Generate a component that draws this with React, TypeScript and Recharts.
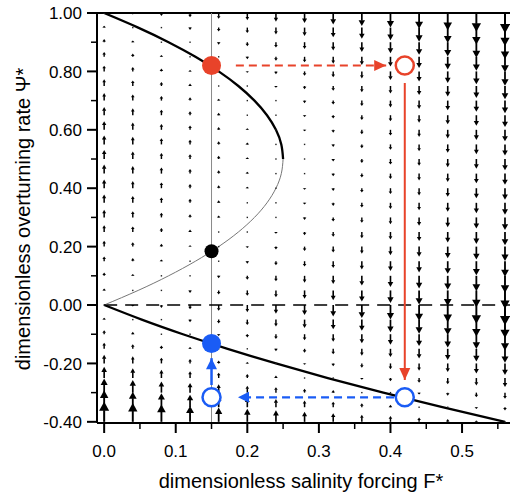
import { ComposedChart, XAxis, YAxis, Line, Scatter, ReferenceLine, Label } from 'recharts';

// steady-state branches (F*, Psi*)
const upperPsi = [1.0, 0.95, 0.9, 0.85, 0.8, 0.75, 0.7, 0.65, 0.6, 0.55, 0.5];
const upperF = [0, 0.0475, 0.09, 0.1275, 0.16, 0.1875, 0.21, 0.2275, 0.24, 0.2475, 0.25];
const middlePsi = [0.5, 0.45, 0.4, 0.35, 0.3, 0.25, 0.2, 0.15, 0.1, 0.05, 0];
const middleF = [0.25, 0.2475, 0.24, 0.2275, 0.21, 0.1875, 0.16, 0.1275, 0.09, 0.0475, 0];
const lowerPsi = [0, -0.05, -0.1, -0.15, -0.2, -0.25, -0.3, -0.35, -0.4];
const lowerF = [0, 0.0525, 0.11, 0.1725, 0.24, 0.3125, 0.39, 0.4725, 0.56];

// vector field: columns of F*, rows of Psi*, and the dPsi/dt read from each arrow
const fieldF = [0, 0.04, 0.08, 0.12, 0.16, 0.2, 0.24, 0.28, 0.32, 0.36, 0.4, 0.44, 0.48, 0.52, 0.56];
const fieldPsi = [1.0, 0.95, 0.9, 0.85, 0.8, 0.75, 0.7, 0.65, 0.6, 0.55, 0.5, 0.45, 0.4, 0.35, 0.3,
  0.25, 0.2, 0.15, 0.1, 0.05, 0, -0.05, -0.1, -0.15, -0.2, -0.25, -0.3, -0.35, -0.4];
const fieldRate = [
  [0, -0.04, -0.08, -0.12, -0.16, -0.2, -0.24, -0.28, -0.32, -0.36, -0.4, -0.44, -0.48, -0.52, -0.56],
  [0.05, 0.01, -0.03, -0.07, -0.11, -0.15, -0.19, -0.23, -0.27, -0.31, -0.35, -0.39, -0.43, -0.47, -0.51],
  [0.09, 0.05, 0.01, -0.03, -0.07, -0.11, -0.15, -0.19, -0.23, -0.27, -0.31, -0.35, -0.39, -0.43, -0.47],
  [0.13, 0.09, 0.05, 0.01, -0.03, -0.07, -0.11, -0.15, -0.19, -0.23, -0.27, -0.31, -0.35, -0.39, -0.43],
  [0.16, 0.12, 0.08, 0.04, 0, -0.04, -0.08, -0.12, -0.16, -0.2, -0.24, -0.28, -0.32, -0.36, -0.4],
  [0.19, 0.15, 0.11, 0.07, 0.03, -0.01, -0.05, -0.09, -0.13, -0.17, -0.21, -0.25, -0.29, -0.33, -0.37],
  [0.21, 0.17, 0.13, 0.09, 0.05, 0.01, -0.03, -0.07, -0.11, -0.15, -0.19, -0.23, -0.27, -0.31, -0.35],
  [0.23, 0.19, 0.15, 0.11, 0.07, 0.03, -0.01, -0.05, -0.09, -0.13, -0.17, -0.21, -0.25, -0.29, -0.33],
  [0.24, 0.2, 0.16, 0.12, 0.08, 0.04, 0, -0.04, -0.08, -0.12, -0.16, -0.2, -0.24, -0.28, -0.32],
  [0.25, 0.21, 0.17, 0.13, 0.09, 0.05, 0.01, -0.03, -0.07, -0.11, -0.15, -0.19, -0.23, -0.27, -0.31],
  [0.25, 0.21, 0.17, 0.13, 0.09, 0.05, 0.01, -0.03, -0.07, -0.11, -0.15, -0.19, -0.23, -0.27, -0.31],
  [0.25, 0.21, 0.17, 0.13, 0.09, 0.05, 0.01, -0.03, -0.07, -0.11, -0.15, -0.19, -0.23, -0.27, -0.31],
  [0.24, 0.2, 0.16, 0.12, 0.08, 0.04, 0, -0.04, -0.08, -0.12, -0.16, -0.2, -0.24, -0.28, -0.32],
  [0.23, 0.19, 0.15, 0.11, 0.07, 0.03, -0.01, -0.05, -0.09, -0.13, -0.17, -0.21, -0.25, -0.29, -0.33],
  [0.21, 0.17, 0.13, 0.09, 0.05, 0.01, -0.03, -0.07, -0.11, -0.15, -0.19, -0.23, -0.27, -0.31, -0.35],
  [0.19, 0.15, 0.11, 0.07, 0.03, -0.01, -0.05, -0.09, -0.13, -0.17, -0.21, -0.25, -0.29, -0.33, -0.37],
  [0.16, 0.12, 0.08, 0.04, 0, -0.04, -0.08, -0.12, -0.16, -0.2, -0.24, -0.28, -0.32, -0.36, -0.4],
  [0.13, 0.09, 0.05, 0.01, -0.03, -0.07, -0.11, -0.15, -0.19, -0.23, -0.27, -0.31, -0.35, -0.39, -0.43],
  [0.09, 0.05, 0.01, -0.03, -0.07, -0.11, -0.15, -0.19, -0.23, -0.27, -0.31, -0.35, -0.39, -0.43, -0.47],
  [0.05, 0.01, -0.03, -0.07, -0.11, -0.15, -0.19, -0.23, -0.27, -0.31, -0.35, -0.39, -0.43, -0.47, -0.51],
  [0, -0.04, -0.08, -0.12, -0.16, -0.2, -0.24, -0.28, -0.32, -0.36, -0.4, -0.44, -0.48, -0.52, -0.56],
  [0.05, 0.01, -0.03, -0.07, -0.11, -0.15, -0.19, -0.23, -0.27, -0.31, -0.35, -0.39, -0.43, -0.47, -0.51],
  [0.11, 0.07, 0.03, -0.01, -0.05, -0.09, -0.13, -0.17, -0.21, -0.25, -0.29, -0.33, -0.37, -0.41, -0.45],
  [0.17, 0.13, 0.09, 0.05, 0.01, -0.03, -0.07, -0.11, -0.15, -0.19, -0.23, -0.27, -0.31, -0.35, -0.39],
  [0.24, 0.2, 0.16, 0.12, 0.08, 0.04, 0, -0.04, -0.08, -0.12, -0.16, -0.2, -0.24, -0.28, -0.32],
  [0.31, 0.27, 0.23, 0.19, 0.15, 0.11, 0.07, 0.03, -0.01, -0.05, -0.09, -0.13, -0.17, -0.21, -0.25],
  [0.39, 0.35, 0.31, 0.27, 0.23, 0.19, 0.15, 0.11, 0.07, 0.03, -0.01, -0.05, -0.09, -0.13, -0.17],
  [0.47, 0.43, 0.39, 0.35, 0.31, 0.27, 0.23, 0.19, 0.15, 0.11, 0.07, 0.03, -0.01, -0.05, -0.09],
  [0.56, 0.52, 0.48, 0.44, 0.4, 0.36, 0.32, 0.28, 0.24, 0.2, 0.16, 0.12, 0.08, 0.04, 0],
];

// marked states
const redFilled = [{ x: 0.15, y: 0.82 }];
const blackFilled = [{ x: 0.15, y: 0.184 }];
const blueFilled = [{ x: 0.15, y: -0.132 }];
const redOpen = [{ x: 0.42, y: 0.82 }];
const blueOpen = [{ x: 0.15, y: -0.316 }, { x: 0.42, y: -0.316 }];

// hysteresis path arrows (start, end)
const redDashed = [{ x: 0.184, y: 0.82 }, { x: 0.394, y: 0.82 }];
const redSolid = [{ x: 0.42, y: 0.76 }, { x: 0.42, y: -0.257 }];
const blueDashed = [{ x: 0.405, y: -0.316 }, { x: 0.187, y: -0.316 }];
const blueSolid = [{ x: 0.15, y: -0.274 }, { x: 0.15, y: -0.182 }];

const guideF = 0.15;
const xDomain = [-0.01, 0.567];
const yDomain = [-0.404, 1.0];
const xMajor = [0, 0.1, 0.2, 0.3, 0.4, 0.5];
const xMinor = [0.05, 0.15, 0.25, 0.35, 0.45, 0.55];
const yMajor = [-0.4, -0.2, 0, 0.2, 0.4, 0.6, 0.8, 1.0];
const yMinor = [-0.3, -0.1, 0.1, 0.3, 0.5, 0.7, 0.9];

const RED = '#E8432A';
const BLUE = '#1A5CF5';
const FONT = '"Liberation Sans", Arial, sans-serif';
const ARROW_PX = 36;

const toPts = (xs: number[], ys: number[]) => xs.map((x, i) => ({ x, y: ys[i] }));
const upperData = toPts(upperF, upperPsi);
const middleData = toPts(middleF, middlePsi);
const lowerData = toPts(lowerF, lowerPsi);
const fieldData = fieldPsi.flatMap((psi, i) => fieldF.map((f, j) => ({ x: f, y: psi, rate: fieldRate[i][j] })));
const guideData = [{ x: guideF, y: yDomain[0] }, { x: guideF, y: yDomain[1] }];
const zeroData = [{ x: 0, y: 0 }, { x: xDomain[1], y: 0 }];

const FieldArrow = (props: any) => {
  const { cx, cy, payload } = props;
  const len = Math.abs(payload.rate) * ARROW_PX;
  if (len < 1.2) return <rect x={cx - 0.7} y={cy - 0.7} width={1.4} height={1.4} fill="#222" />;
  const dir = payload.rate > 0 ? -1 : 1;
  const tipY = cy + dir * len;
  const hl = Math.min(len, Math.max(2.5, len * 0.45));
  const hw = Math.max(1.8, len * 0.25);
  const baseY = tipY - dir * hl;
  return (
    <g>
      <line x1={cx} y1={cy} x2={cx} y2={baseY + dir * 0.5} stroke="#000" strokeWidth={1.2 + len * 0.04} />
      <polygon points={`${cx},${tipY} ${cx - hw},${baseY} ${cx + hw},${baseY}`} fill="#000" />
    </g>
  );
};

const dotShape = (r: number, fill: string, stroke?: string) => (p: any) => (
  <circle cx={p.cx} cy={p.cy} r={r} fill={fill} stroke={stroke || 'none'} strokeWidth={2.5} />
);

const headDot = (data: { x: number; y: number }[], color: string, hl: number, hw: number) => (p: any) => {
  if (p.index !== data.length - 1) return <g key={`d${p.index}`} />;
  const a = data[0];
  const b = data[data.length - 1];
  const dx = Math.sign(b.x - a.x);
  const dy = -Math.sign(b.y - a.y);
  const bx = p.cx - dx * hl;
  const by = p.cy - dy * hl;
  const pts = `${p.cx},${p.cy} ${bx - dy * hw},${by + dx * hw} ${bx + dy * hw},${by - dx * hw}`;
  return <polygon key={`d${p.index}`} points={pts} fill={color} />;
};

const XTick = (props: any) => {
  const { x, y, payload } = props;
  const major = xMajor.includes(payload.value);
  return (
    <g>
      <line x1={x} x2={x} y1={y} y2={y + (major ? 10 : 6)} stroke="#000" strokeWidth={major ? 2 : 1.5} />
      {major && (
        <text x={x} y={y + 34} textAnchor="middle" fontSize={17} fontFamily={FONT} fill="#000">
          {payload.value.toFixed(1)}
        </text>
      )}
    </g>
  );
};

const YTick = (props: any) => {
  const { x, y, payload } = props;
  const major = yMajor.includes(payload.value);
  return (
    <g>
      <line x1={x} x2={x - (major ? 10 : 6)} y1={y} y2={y} stroke="#000" strokeWidth={major ? 2 : 1.5} />
      {major && (
        <text x={x - 15} y={y} dy="0.36em" textAnchor="end" fontSize={17} fontFamily={FONT} fill="#000">
          {payload.value.toFixed(2)}
        </text>
      )}
    </g>
  );
};

export default function App() {
  return (
    <div style={{ position: 'absolute', left: 0, top: 0, width: 510, height: 497, background: '#fff' }}>
      <ComposedChart width={510} height={497} margin={{ top: 13, right: 0, bottom: 0, left: 0 }}>
        <XAxis
          type="number"
          dataKey="x"
          domain={xDomain}
          allowDataOverflow
          ticks={[...xMajor, ...xMinor]}
          tick={<XTick />}
          tickLine={false}
          tickSize={0}
          tickMargin={0}
          height={74}
          axisLine={{ stroke: '#000', strokeWidth: 2 }}
          interval={0}
        >
          <Label
            content={() => (
              <text x={301} y={488} textAnchor="middle" fontSize={20} fontFamily={FONT} fill="#000">
                dimensionless salinity forcing F*
              </text>
            )}
          />
        </XAxis>
        <YAxis
          type="number"
          dataKey="y"
          domain={yDomain}
          allowDataOverflow
          ticks={[...yMajor, ...yMinor]}
          tick={<YTick />}
          tickLine={false}
          tickSize={0}
          tickMargin={0}
          width={97}
          axisLine={{ stroke: '#000', strokeWidth: 2 }}
          interval={0}
        >
          <Label
            content={() => (
              <text x={30} y={219} textAnchor="middle" fontSize={20} fontFamily={FONT} fill="#000"
                transform="rotate(-90, 30, 219)">
                dimensionless overturning rate Ψ*
              </text>
            )}
          />
        </YAxis>
        <ReferenceLine y={1} stroke="#000" strokeWidth={2} />
        <Line data={guideData} dataKey="y" stroke="#8a8a8a" strokeWidth={1} dot={false} activeDot={false} isAnimationActive={false} />
        <Line data={zeroData} dataKey="y" stroke="#000" strokeWidth={1.5} strokeDasharray="13 8" dot={false} activeDot={false} isAnimationActive={false} />
        <Line data={upperData} dataKey="y" type="natural" stroke="#000" strokeWidth={2.3} dot={false} activeDot={false} isAnimationActive={false} />
        <Line data={middleData} dataKey="y" type="natural" stroke="#777" strokeWidth={1} dot={false} activeDot={false} isAnimationActive={false} />
        <Line data={lowerData} dataKey="y" type="natural" stroke="#000" strokeWidth={2.3} dot={false} activeDot={false} isAnimationActive={false} />
        <Scatter data={fieldData} shape={<FieldArrow />} isAnimationActive={false} />
        <Line data={redDashed} dataKey="y" stroke={RED} strokeWidth={2} strokeDasharray="8 5" dot={headDot(redDashed, RED, 12, 5.5)} activeDot={false} isAnimationActive={false} />
        <Line data={redSolid} dataKey="y" stroke={RED} strokeWidth={2} dot={headDot(redSolid, RED, 12, 5.5)} activeDot={false} isAnimationActive={false} />
        <Line data={blueDashed} dataKey="y" stroke={BLUE} strokeWidth={2.2} strokeDasharray="8 5" dot={headDot(blueDashed, BLUE, 11, 5.5)} activeDot={false} isAnimationActive={false} />
        <Line data={blueSolid} dataKey="y" stroke={BLUE} strokeWidth={2.5} dot={headDot(blueSolid, BLUE, 11, 5.5)} activeDot={false} isAnimationActive={false} />
        <Scatter data={redFilled} shape={dotShape(9.5, RED)} isAnimationActive={false} />
        <Scatter data={blackFilled} shape={dotShape(7, '#000')} isAnimationActive={false} />
        <Scatter data={blueFilled} shape={dotShape(9.5, BLUE)} isAnimationActive={false} />
        <Scatter data={redOpen} shape={dotShape(9, '#fff', RED)} isAnimationActive={false} />
        <Scatter data={blueOpen} shape={dotShape(9, '#fff', BLUE)} isAnimationActive={false} />
      </ComposedChart>
    </div>
  );
}
